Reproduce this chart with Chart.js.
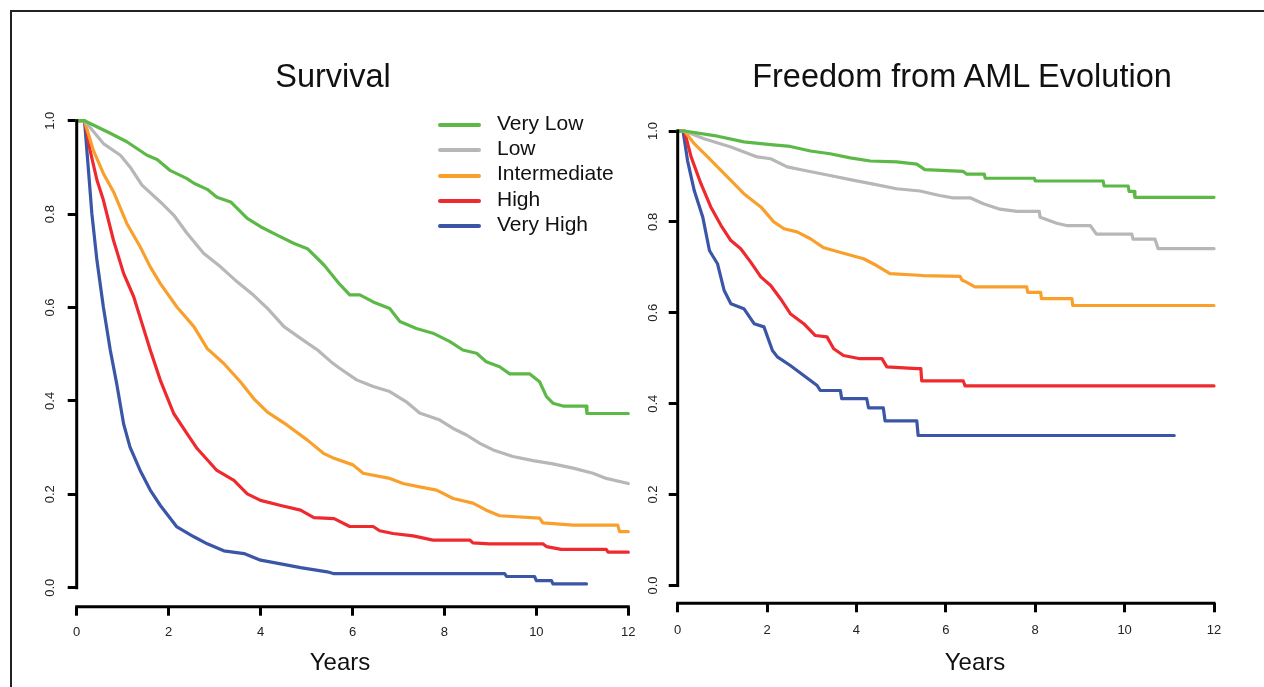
<!DOCTYPE html>
<html>
<head>
<meta charset="utf-8">
<title>Survival and Freedom from AML Evolution</title>
<script src="https://cdn.jsdelivr.net/npm/chart.js@4.4.1/dist/chart.umd.min.js"></script>
<style>
  html, body { margin: 0; padding: 0; background: #fff; }
  body { width: 1264px; height: 687px; position: relative; overflow: hidden;
         font-family: "Liberation Sans", Arial, Helvetica, sans-serif; color: #111; }
  #frame { position: absolute; left: 10px; top: 10px; width: 1270px; height: 690px;
           border: 2px solid #222; box-sizing: border-box; }
  canvas { position: absolute; top: 0; }
  .title { position: absolute; width: 600px; text-align: center; font-size: 32.5px;
           line-height: 32px; white-space: nowrap; }
  .xlabel { position: absolute; width: 200px; text-align: center; font-size: 24px;
            line-height: 24px; }
  .leg-row { position: absolute; font-size: 21px; line-height: 21px; white-space: nowrap; }
  .leg-line { position: absolute; height: 4px; width: 43px; border-radius: 2px; }
</style>
</head>
<body>
<div id="frame"></div>
<canvas id="survChart" width="645" height="687" style="left:0px"></canvas>
<canvas id="amlChart" width="644" height="687" style="left:620px"></canvas>

<div class="title" style="left:33px; top:60px">Survival</div>
<div class="title" style="left:662px; top:60px">Freedom from AML Evolution</div>
<div class="xlabel" style="left:240px; top:650px">Years</div>
<div class="xlabel" style="left:875px; top:650px">Years</div>
<div id="legend"></div>

<script>
// axis ticks
const years = [0, 2, 4, 6, 8, 10, 12];
const yTicks = [0, 0.2, 0.4, 0.6, 0.8, 1.0];

// risk groups
const groups = ['Very Low', 'Low', 'Intermediate', 'High', 'Very High'];
const groupColors = ['#5cb947', '#b7b7ba', '#f9a02c', '#ee2a2f', '#3b56a6'];

// Survival curves, [years, proportion]
const survVeryLow = [[0,1],[0.17,1],[0.73,0.973],[1.09,0.955],[1.53,0.926],[1.75,0.917],[2.04,0.893],
  [2.4,0.876],[2.55,0.866],[2.84,0.853],[3.05,0.836],[3.35,0.826],[3.71,0.791],[4.0,0.773],[4.36,0.755],
  [4.73,0.737],[5.02,0.726],[5.38,0.691],[5.72,0.65],[5.94,0.627],[6.16,0.627],[6.45,0.612],[6.81,0.598],
  [7.03,0.57],[7.39,0.555],[7.75,0.545],[8.12,0.527],[8.4,0.509],[8.7,0.502],[8.91,0.484],[9.2,0.473],
  [9.42,0.458],[9.85,0.458],[10.07,0.441],[10.22,0.409],[10.36,0.395],[10.58,0.389],[11.08,0.389],
  [11.1,0.373],[12,0.373]];
const survLow = [[0,1],[0.17,1],[0.58,0.951],[0.95,0.926],[1.16,0.901],[1.42,0.862],[1.82,0.826],
  [2.11,0.798],[2.4,0.759],[2.76,0.716],[3.13,0.687],[3.49,0.655],[3.85,0.626],[4.15,0.598],[4.51,0.559],
  [4.87,0.534],[5.24,0.509],[5.53,0.484],[5.72,0.47],[6.09,0.445],[6.45,0.431],[6.81,0.42],[7.17,0.398],
  [7.46,0.374],[7.9,0.359],[8.19,0.341],[8.48,0.327],[8.77,0.309],[9.06,0.295],[9.49,0.281],[9.93,0.272],
  [10.36,0.265],[10.8,0.256],[11.23,0.245],[11.52,0.234],[12,0.223]];
const survIntermediate = [[0,1],[0.17,1],[0.36,0.937],[0.58,0.887],[0.8,0.848],[1.09,0.78],[1.38,0.73],
  [1.6,0.687],[1.82,0.651],[2.18,0.601],[2.55,0.559],[2.84,0.512],[3.2,0.48],[3.56,0.441],[3.85,0.405],
  [4.15,0.376],[4.58,0.348],[5.02,0.316],[5.38,0.287],[5.6,0.277],[6.01,0.263],[6.23,0.245],[6.81,0.234],
  [7.1,0.223],[7.46,0.216],[7.83,0.209],[8.19,0.191],[8.62,0.181],[8.91,0.166],[9.2,0.154],[10.07,0.149],
  [10.14,0.139],[10.8,0.134],[11.77,0.134],[11.81,0.12],[12,0.12]];
const survHigh = [[0,1],[0.17,1],[0.29,0.937],[0.44,0.873],[0.58,0.83],[0.8,0.744],[1.02,0.673],
  [1.24,0.623],[1.42,0.566],[1.6,0.509],[1.82,0.444],[2.11,0.373],[2.4,0.33],[2.62,0.298],[3.05,0.251],
  [3.42,0.23],[3.71,0.201],[4.0,0.187],[4.44,0.176],[4.87,0.166],[5.16,0.15],[5.6,0.148],[5.94,0.131],
  [6.45,0.131],[6.59,0.122],[6.88,0.116],[7.32,0.111],[7.75,0.102],[8.55,0.102],[8.62,0.096],[8.98,0.094],
  [10.14,0.094],[10.22,0.088],[10.54,0.082],[11.52,0.082],[11.56,0.076],[12,0.076]];
const survVeryHigh = [[0,1],[0.17,1],[0.25,0.901],[0.33,0.801],[0.44,0.701],[0.58,0.601],[0.73,0.509],
  [0.87,0.437],[1.02,0.351],[1.16,0.301],[1.38,0.251],[1.6,0.209],[1.82,0.176],[2.18,0.13],[2.55,0.109],
  [2.84,0.094],[3.2,0.079],[3.64,0.073],[4.0,0.059],[4.44,0.051],[4.87,0.043],[5.45,0.034],[5.6,0.03],
  [9.31,0.03],[9.35,0.024],[9.96,0.024],[10.0,0.015],[10.33,0.015],[10.36,0.008],[11.09,0.008]];

// Freedom from AML evolution curves, [years, proportion]
const amlVeryLow = [[0,1],[0.15,1],[0.82,0.99],[1.48,0.976],[2.08,0.97],[2.52,0.966],[2.97,0.956],
  [3.41,0.95],[3.86,0.941],[4.31,0.934],[4.9,0.932],[5.35,0.927],[5.53,0.915],[6.39,0.911],[6.47,0.905],
  [6.86,0.905],[6.88,0.896],[7.98,0.896],[8.0,0.89],[9.52,0.89],[9.54,0.879],[10.08,0.879],[10.1,0.867],
  [10.21,0.867],[10.23,0.854],[12,0.854]];
const amlLow = [[0,1],[0.15,1],[0.59,0.983],[1.19,0.965],[1.78,0.943],[2.08,0.939],[2.45,0.921],
  [2.9,0.912],[3.41,0.902],[3.86,0.893],[4.38,0.883],[4.9,0.873],[5.42,0.868],[5.86,0.858],[6.16,0.853],
  [6.54,0.853],[6.84,0.84],[7.21,0.828],[7.59,0.823],[8.09,0.823],[8.11,0.81],[8.48,0.797],[8.7,0.792],
  [9.23,0.792],[9.37,0.773],[10.16,0.773],[10.19,0.762],[10.68,0.762],[10.75,0.741],[12,0.741]];
const amlIntermediate = [[0,1],[0.15,1],[0.37,0.972],[0.67,0.943],[1.04,0.906],[1.48,0.862],
  [1.86,0.833],[2.15,0.8],[2.38,0.785],[2.67,0.778],[2.97,0.763],[3.27,0.743],[3.71,0.731],[4.16,0.719],
  [4.45,0.704],[4.75,0.686],[5.49,0.682],[6.32,0.68],[6.36,0.672],[6.47,0.667],[6.65,0.657],[7.81,0.657],
  [7.83,0.645],[8.12,0.645],[8.14,0.631],[8.82,0.631],[8.84,0.616],[12,0.616]];
const amlHigh = [[0,1],[0.15,1],[0.3,0.943],[0.52,0.884],[0.74,0.833],[0.97,0.792],[1.19,0.759],
  [1.41,0.741],[1.63,0.712],[1.86,0.679],[2.08,0.66],[2.3,0.631],[2.52,0.598],[2.82,0.576],[3.08,0.55],
  [3.34,0.547],[3.49,0.521],[3.71,0.506],[4.08,0.499],[4.57,0.499],[4.68,0.481],[5.35,0.477],[5.44,0.477],
  [5.46,0.45],[6.39,0.45],[6.43,0.439],[12,0.439]];
const amlVeryHigh = [[0,1],[0.12,1],[0.22,0.935],[0.37,0.869],[0.56,0.811],[0.71,0.737],[0.89,0.708],
  [1.04,0.649],[1.19,0.62],[1.48,0.609],[1.71,0.576],[1.93,0.569],[2.12,0.517],[2.23,0.503],[2.52,0.484],
  [2.82,0.462],[3.12,0.44],[3.19,0.429],[3.64,0.429],[3.67,0.411],[4.23,0.411],[4.27,0.391],[4.6,0.391],
  [4.64,0.362],[5.35,0.362],[5.38,0.33],[11.11,0.33]];

const survival = [survVeryLow, survLow, survIntermediate, survHigh, survVeryHigh];
const amlFree = [amlVeryLow, amlLow, amlIntermediate, amlHigh, amlVeryHigh];

const fontFamily = '"Liberation Sans", Arial, Helvetica, sans-serif';

// R style axes: the lines only run from first to last tick
const axisLines = {
  id: 'axisLines',
  afterDraw(chart) {
    const { ctx, chartArea, scales: { x, y } } = chart;
    ctx.save();
    ctx.strokeStyle = '#000';
    ctx.lineWidth = 3;
    ctx.beginPath();
    ctx.moveTo(chartArea.left, y.getPixelForValue(yTicks[0]) + 1.5);
    ctx.lineTo(chartArea.left, y.getPixelForValue(yTicks[yTicks.length - 1]) - 1.5);
    ctx.moveTo(x.getPixelForValue(years[0]) - 1.5, chartArea.bottom);
    ctx.lineTo(x.getPixelForValue(years[years.length - 1]) + 1.5, chartArea.bottom);
    ctx.stroke();
    ctx.restore();
  }
};

function tickGrid() {
  return { drawOnChartArea: false, drawTicks: true, tickLength: 9, lineWidth: 3, color: '#000' };
}

function makePanel(id, curves, box) {
  const datasets = curves.map((pts, i) => ({
    label: groups[i],
    data: pts.map(p => ({ x: p[0], y: p[1] })),
    borderColor: groupColors[i],
    borderWidth: 3.2,
    pointRadius: 0,
    fill: false,
    tension: 0,
    clip: false,
    borderCapStyle: 'round',
    borderJoinStyle: 'round'
  }));

  return new Chart(document.getElementById(id), {
    type: 'line',
    data: { datasets: datasets },
    plugins: [axisLines],
    options: {
      responsive: false,
      animation: false,
      events: [],
      layout: { padding: { top: box.top, right: box.right, bottom: 0, left: 0 } },
      plugins: { legend: { display: false }, tooltip: { enabled: false } },
      scales: {
        x: {
          type: 'linear',
          min: years[0],
          max: years[years.length - 1],
          afterBuildTicks: s => { s.ticks = years.map(v => ({ value: v })); },
          afterFit: s => { s.height = box.xHeight; },
          grid: tickGrid(),
          border: { display: false },
          ticks: { padding: box.xPad, color: '#222', autoSkip: false, maxRotation: 0,
                   font: { family: fontFamily, size: 13 } }
        },
        y: {
          type: 'linear',
          min: box.yMin,
          max: 1,
          afterBuildTicks: s => { s.ticks = yTicks.map(v => ({ value: v })); },
          afterFit: s => { s.width = box.yWidth; },
          grid: tickGrid(),
          border: { display: false },
          ticks: { padding: box.labelPad, color: '#222', autoSkip: false, crossAlign: 'center',
                   minRotation: 90, maxRotation: 90,
                   callback: v => Number(v).toFixed(1),
                   font: { family: fontFamily, size: 13 } }
        }
      }
    }
  });
}

makePanel('survChart', survival, { top: 120.7, right: 16.7, xHeight: 80.3, yWidth: 76.7, yMin: -0.0407, labelPad: 8.5, xPad: 9 });
makePanel('amlChart', amlFree, { top: 131, right: 50, xHeight: 83.7, yWidth: 57.7, yMin: -0.0392, labelPad: 6.5, xPad: 10 });

// legend inside the survival panel
const legend = document.getElementById('legend');
groups.forEach((g, i) => {
  const line = document.createElement('div');
  line.className = 'leg-line';
  line.style.left = '438px';
  line.style.top = (123 + i * 25.35) + 'px';
  line.style.background = groupColors[i];
  legend.appendChild(line);

  const row = document.createElement('div');
  row.className = 'leg-row';
  row.style.left = '497px';
  row.style.top = (111.5 + i * 25.35) + 'px';
  row.textContent = g;
  legend.appendChild(row);
});
</script>
</body>
</html>
